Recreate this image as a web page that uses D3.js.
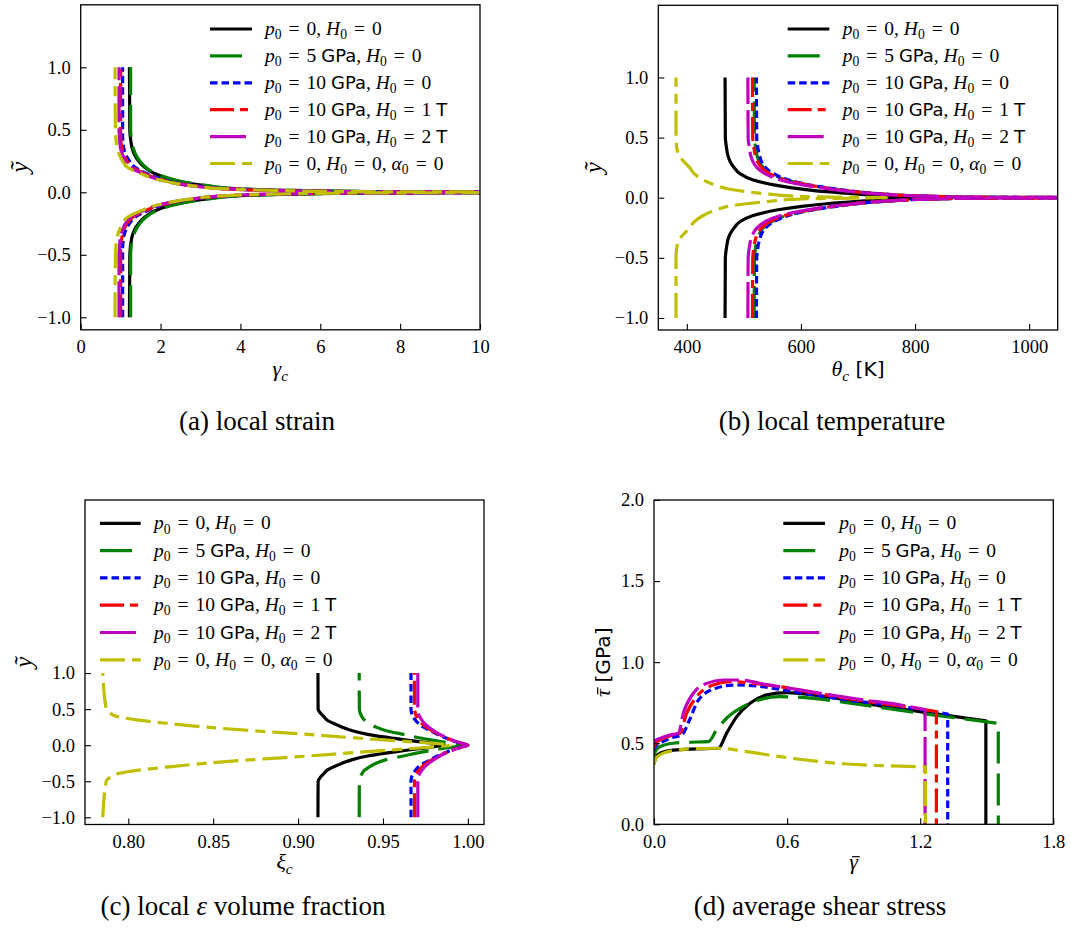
<!DOCTYPE html>
<html><head><meta charset="utf-8">
<script src="https://cdn.jsdelivr.net/npm/d3@7"></script>
<style>body{margin:0;background:#fff} svg{display:block}</style>
</head><body>
<svg id="c" width="1071" height="938"></svg>
<script>
// ---------- data ----------
const seriesColors = ["#000000", "#008000", "#0000ff", "#ff0000", "#bf00bf", "#bfbf00"];
const seriesDash = [null, "32,10", "7.5,4", "24,6,8,6", "36,6", "25,7,10,7"];
const legendLabels = [
  [["p","i"],["0","s"],["=","e"],["0,","r"],[" ","r"],["H","i"],["0","s"],["=","e"],["0","r"]],
  [["p","i"],["0","s"],["=","e"],["5 ","r"],["GPa","f"],[", ","r"],["H","i"],["0","s"],["=","e"],["0","r"]],
  [["p","i"],["0","s"],["=","e"],["10 ","r"],["GPa","f"],[", ","r"],["H","i"],["0","s"],["=","e"],["0","r"]],
  [["p","i"],["0","s"],["=","e"],["10 ","r"],["GPa","f"],[", ","r"],["H","i"],["0","s"],["=","e"],["1 ","r"],["T","f"]],
  [["p","i"],["0","s"],["=","e"],["10 ","r"],["GPa","f"],[", ","r"],["H","i"],["0","s"],["=","e"],["2 ","r"],["T","f"]],
  [["p","i"],["0","s"],["=","e"],["0,","r"],[" ","r"],["H","i"],["0","s"],["=","e"],["0,","r"],[" ","r"],["α","i"],["0","s"],["=","e"],["0","r"]]
];

const profileY = [-1,-0.5,-0.45,-0.4,-0.35,-0.3,-0.25,-0.2,-0.15,-0.1,-0.07,-0.05,-0.03,-0.015,-0.005,0,0.005,0.015,0.03,0.05,0.07,0.1,0.15,0.2,0.25,0.3,0.35,0.4,0.45,0.5,1];

// (a) local strain gamma_c
const strainBlack   = [1.22,1.23,1.24,1.26,1.29,1.35,1.45,1.6,1.85,2.3,2.75,3.2,3.8,5.2,7.5,14,7.5,5.2,3.8,3.2,2.75,2.3,1.85,1.6,1.45,1.35,1.29,1.26,1.24,1.23,1.22];
const strainGreen   = [1.25,1.25,1.26,1.28,1.32,1.38,1.48,1.63,1.88,2.35,2.8,3.25,3.9,5.3,7.7,14,7.7,5.3,3.9,3.25,2.8,2.35,1.88,1.63,1.48,1.38,1.32,1.28,1.26,1.25,1.25];
const strainBlue    = [1.05,1.05,1.05,1.06,1.08,1.13,1.22,1.36,1.65,2.07,2.5,2.95,3.6,4.9,7.2,14,7.2,4.9,3.6,2.95,2.5,2.07,1.65,1.36,1.22,1.13,1.08,1.06,1.05,1.05,1.05];
const strainRed     = [1.0,1.0,1.0,1.01,1.04,1.08,1.16,1.3,1.6,2.02,2.45,2.9,3.55,4.8,7.1,14,7.1,4.8,3.55,2.9,2.45,2.02,1.6,1.3,1.16,1.08,1.04,1.01,1.0,1.0,1.0];
const strainMagenta = [0.96,0.96,0.97,0.98,1.0,1.05,1.12,1.25,1.55,1.97,2.4,2.85,3.5,4.7,7.0,14,7.0,4.7,3.5,2.85,2.4,1.97,1.55,1.25,1.12,1.05,1.0,0.98,0.97,0.96,0.96];
const strainYellow  = [0.86,0.87,0.88,0.89,0.92,0.97,1.05,1.17,1.5,1.95,2.4,2.85,3.5,4.8,7.0,14,7.0,4.8,3.5,2.85,2.4,1.95,1.5,1.17,1.05,0.97,0.92,0.89,0.88,0.87,0.86];

// (b) local temperature theta_c [K]
const tempBlack   = [467,467.5,468.5,470,472,476,483,493,515,560,605,645,700,750,810,860,810,750,700,645,605,560,515,493,483,476,472,470,468.5,467.5,467];
const tempGreen   = [518,518.5,519.5,521,523,527,534,548,573,620,662,696,745,804,893,1150,893,804,745,696,662,620,573,548,534,527,523,521,519.5,518.5,518];
const tempBlue    = [522,522.5,523.5,525,527.5,531,538,552,577,623,665,698,747,805,894,1150,894,805,747,698,665,623,577,552,538,531,527.5,525,523.5,522.5,522];
const tempRed     = [515,515.5,516.5,518,520,524,531,545,570,618,660,694,744,803,892,1150,892,803,744,694,660,618,570,545,531,524,520,518,516.5,515.5,515];
const tempMagenta = [507,507.5,508.5,510,512,516,523,537,563,612,655,690,740,800,890,1150,890,800,740,690,655,612,563,537,523,516,512,510,508.5,507.5,507];
const tempYellow  = [381,381,381.5,383,386,395,405,413,428,452,475,505,545,580,650,750,650,580,545,505,475,452,428,413,405,395,386,383,381.5,381,381];

// (c) local epsilon volume fraction xi_c
const fracBlack   = [0.9117,0.9118,0.913,0.915,0.917,0.921,0.926,0.932,0.941,0.955,0.964,0.971,0.978,0.982,0.985,0.986,0.985,0.982,0.978,0.971,0.964,0.955,0.941,0.932,0.926,0.921,0.917,0.915,0.913,0.9118,0.9117];
const fracGreen   = [0.936,0.9361,0.9365,0.9375,0.939,0.942,0.946,0.952,0.962,0.972,0.979,0.984,0.99,0.994,0.996,0.997,0.996,0.994,0.99,0.984,0.979,0.972,0.962,0.952,0.946,0.942,0.939,0.9375,0.9365,0.9361,0.936];
const fracBlue    = [0.9665,0.9665,0.9668,0.9675,0.969,0.971,0.974,0.978,0.982,0.987,0.99,0.9925,0.9955,0.998,0.9995,1.0,0.9995,0.998,0.9955,0.9925,0.99,0.987,0.982,0.978,0.974,0.971,0.969,0.9675,0.9668,0.9665,0.9665];
const fracRed     = [0.9685,0.9686,0.969,0.9697,0.971,0.973,0.9755,0.979,0.983,0.9875,0.9905,0.993,0.996,0.998,0.9995,1.0,0.9995,0.998,0.996,0.993,0.9905,0.9875,0.983,0.979,0.9755,0.973,0.971,0.9697,0.969,0.9686,0.9685];
const fracMagenta = [0.9705,0.9705,0.9707,0.9715,0.9728,0.9745,0.977,0.98,0.9835,0.988,0.991,0.993,0.996,0.998,0.9995,1.0,0.9995,0.998,0.996,0.993,0.991,0.988,0.9835,0.98,0.977,0.9745,0.9728,0.9715,0.9707,0.9705,0.9705];
const fracYellow  = [0.785,0.787,0.789,0.793,0.805,0.824,0.846,0.874,0.906,0.934,0.952,0.965,0.977,0.985,0.989,0.99,0.989,0.985,0.977,0.965,0.952,0.934,0.906,0.874,0.846,0.824,0.805,0.793,0.789,0.787,0.785];

// (d) average shear stress vs average strain (curve, then sudden drop to 0)
const gamBlack   = [0,0.008,0.027,0.087,0.192,0.29,0.327,0.373,0.433,0.508,0.598,0.718,0.868,1.019,1.169,1.319,1.496];
const tauBlack   = [0.376,0.41,0.438,0.458,0.465,0.469,0.561,0.664,0.746,0.798,0.812,0.798,0.767,0.730,0.701,0.672,0.638];
const gamGreen   = [0,0.008,0.027,0.087,0.162,0.245,0.282,0.327,0.388,0.463,0.568,0.718,0.868,1.019,1.169,1.319,1.552];
const tauGreen   = [0.417,0.455,0.479,0.5,0.506,0.51,0.582,0.654,0.715,0.763,0.787,0.777,0.75,0.721,0.691,0.664,0.623];
const gamBlue    = [0,0.008,0.027,0.072,0.128,0.16,0.2,0.276,0.366,0.463,0.568,0.718,0.868,1.019,1.169,1.324];
const tauBlue    = [0.458,0.485,0.5,0.53,0.556,0.643,0.766,0.838,0.859,0.853,0.832,0.798,0.767,0.742,0.715,0.68];
const gamRed     = [0,0.008,0.027,0.087,0.117,0.147,0.192,0.267,0.343,0.448,0.568,0.718,0.868,1.019,1.169,1.273];
const tauRed     = [0.469,0.5,0.52,0.551,0.561,0.684,0.787,0.859,0.88,0.869,0.849,0.812,0.777,0.746,0.719,0.695];
const gamMagenta = [0,0.008,0.027,0.072,0.11,0.132,0.177,0.237,0.312,0.388,0.493,0.643,0.793,0.943,1.094,1.222];
const tauMagenta = [0.5,0.518,0.53,0.551,0.561,0.684,0.808,0.869,0.89,0.89,0.865,0.832,0.798,0.767,0.74,0.707];
const gamYellow  = [0,0.008,0.027,0.087,0.192,0.29,0.418,0.568,0.718,0.868,1.019,1.224];
const tauYellow  = [0.366,0.405,0.428,0.454,0.467,0.469,0.448,0.417,0.391,0.372,0.362,0.355];

const ticksA_x = [0,2,4,6,8,10];
const ticksB_x = [400,600,800,1000];
const ticksC_x = [0.80,0.85,0.90,0.95,1.00];
const ticksD_x = [0.0,0.6,1.2,1.8];
const ticksProfile_y = [-1.0,-0.5,0.0,0.5,1.0];
const ticksD_y = [0.0,0.5,1.0,1.5,2.0];

// ---------- drawing ----------
const svg = d3.select("#c");
const SERIF = "'Liberation Serif', 'Times New Roman', serif";
const SANS = "'DejaVu Sans', sans-serif";
const LW = 3.2;

// token kinds: i italic, r roman, f sans, s subscript, si italic subscript, e '=' with math spacing, ib italic with bar
function richText(sel, tokens, size) {
  const sub = size * 0.22, pad = size * 0.36;
  let prevSub = false, padNext = false;
  const bars = [];
  tokens.forEach(([t, k]) => {
    const ts = sel.append("tspan").text(t);
    const isSub = (k === "s" || k === "si");
    if (k === "i" || k === "ib") ts.attr("font-style", "italic").attr("font-family", SERIF).attr("font-size", size);
    else if (k === "r" || k === "e") ts.attr("font-family", SERIF).attr("font-size", size);
    else if (k === "f") ts.attr("font-family", SANS).attr("font-size", size * 0.92);
    else if (isSub) ts.attr("font-family", SERIF).attr("font-size", size * 0.7).attr("dy", sub)
                      .attr("font-style", k === "si" ? "italic" : null);
    if (prevSub && !isSub) ts.attr("dy", -sub);
    let dx = 0;
    if (padNext) dx += pad;
    if (k === "e") dx += pad;
    if (dx) ts.attr("dx", dx);
    padNext = (k === "e");
    prevSub = isSub;
    if (k === "ib") bars.push(ts);
  });
  return bars;
}

function label(parent, tokens, size, transform, anchor) {
  const g = parent.append("g").attr("transform", transform);
  const t = g.append("text").attr("text-anchor", anchor || "middle").attr("fill", "#000");
  const bars = richText(t, tokens, size);
  bars.forEach(ts => {
    const n = ts.node();
    const p0 = n.getStartPositionOfChar(0), p1 = n.getEndPositionOfChar(0);
    const by = p0.y - size * 0.56;
    g.append("line").attr("x1", p0.x + size * 0.12).attr("x2", p1.x + size * 0.08)
      .attr("y1", by).attr("y2", by).attr("stroke", "#000").attr("stroke-width", 1.2);
  });
  return g;
}

function panel(cfg) {
  const g = svg.append("g");
  const x = d3.scaleLinear().domain(cfg.xd).range(cfg.xr);
  const y = d3.scaleLinear().domain(cfg.yd).range(cfg.yr);
  const id = "clip" + cfg.name;
  svg.append("clipPath").attr("id", id).append("rect")
    .attr("x", cfg.xr[0]).attr("y", cfg.yr[1]).attr("width", cfg.xr[1]-cfg.xr[0]).attr("height", cfg.yr[0]-cfg.yr[1]);
  const plot = g.append("g").attr("clip-path", `url(#${id})`);

  cfg.series.forEach((s, i) => {
    let dstr;
    if (cfg.profile) {
      const pts = profileY.map((yy, j) => [s[j], yy]);
      dstr = d3.line().x(d => x(d[0])).y(d => y(d[1])).curve(d3.curveMonotoneY)(pts);
    } else {
      const pts = s[0].map((v, j) => [v, s[1][j]]);
      dstr = d3.line().x(d => x(d[0])).y(d => y(d[1])).curve(d3.curveMonotoneX)(pts)
        + `L${x(s[0][s[0].length-1])},${y(0)}`;
    }
    plot.append("path").attr("d", dstr).attr("fill", "none")
      .attr("stroke", seriesColors[i]).attr("stroke-width", LW)
      .attr("stroke-dasharray", seriesDash[i]).attr("stroke-linejoin", "round");
  });

  // axes with inward ticks
  const ax = g.append("g").attr("transform", `translate(0,${cfg.yr[0]})`)
    .call(d3.axisBottom(x).tickValues(cfg.tx).tickFormat(cfg.fmtX).tickSizeInner(-6).tickSizeOuter(0).tickPadding(10));
  const ay = g.append("g").attr("transform", `translate(${cfg.xr[0]},0)`)
    .call(d3.axisLeft(y).tickValues(cfg.ty).tickFormat(cfg.fmtY).tickSizeInner(-6).tickSizeOuter(0).tickPadding(10));
  [ax, ay].forEach(a => {
    a.attr("font-family", SERIF).attr("font-size", 18.5);
    a.select(".domain").remove();
    a.selectAll("line").attr("stroke", "#000").attr("stroke-width", 1.1);
    a.selectAll("text").attr("font-family", SERIF).attr("font-size", 18.5).attr("fill", "#000");
  });
  ax.selectAll("text").attr("dy", "0.72em");
  g.append("rect").attr("x", cfg.xr[0]).attr("y", cfg.yr[1]).attr("width", cfg.xr[1]-cfg.xr[0])
    .attr("height", cfg.yr[0]-cfg.yr[1]).attr("fill", "none").attr("stroke", "#000").attr("stroke-width", 1.3);

  // legend
  cfg.series.forEach((s, i) => {
    const ly = cfg.leg.y0 + i * cfg.leg.dy;
    g.append("line").attr("x1", cfg.leg.x1).attr("x2", cfg.leg.x2).attr("y1", ly).attr("y2", ly)
      .attr("stroke", seriesColors[i]).attr("stroke-width", LW).attr("stroke-dasharray", seriesDash[i]);
    label(g, legendLabels[i], 19.5, `translate(${cfg.leg.tx},${ly + 6})`, "start");
  });

  // axis labels
  label(g, cfg.xlab, 22, `translate(${(cfg.xr[0]+cfg.xr[1])/2},${cfg.xlabY})`);
  label(g, cfg.ylab, cfg.ylabSize || 22, `translate(${cfg.ylabX},${(cfg.yr[0]+cfg.yr[1])/2}) rotate(-90)`);

  // caption
  label(g, cfg.cap.t, 27, `translate(${cfg.cap.x},${cfg.cap.y})`);
}

const f1 = d3.format(".1f"), f2 = d3.format(".2f"), f0 = d3.format("d");

panel({name: "a", profile: true, xd: [0, 10], xr: [80.7, 480], yd: [-1.1, 1.5], yr: [329.8, 4.8],
  series: [strainBlack, strainGreen, strainBlue, strainRed, strainMagenta, strainYellow],
  tx: ticksA_x, ty: ticksProfile_y, fmtX: f0, fmtY: f1,
  leg: {x1: 210, x2: 252, tx: 265, y0: 29, dy: 26.9},
  xlab: [["γ","i"],["c","si"]], xlabY: 376, ylab: [["ỹ","i"]], ylabX: 28, ylabSize: 25,
  cap: {x: 257, y: 430, t: [["(a) local strain","r"]]}});

panel({name: "b", profile: true, xd: [350, 1050], xr: [658.3, 1057.7], yd: [-1.1, 1.6], yr: [330, 5.3],
  series: [tempBlack, tempGreen, tempBlue, tempRed, tempMagenta, tempYellow],
  tx: ticksB_x, ty: ticksProfile_y, fmtX: f0, fmtY: f1,
  leg: {x1: 787.7, x2: 829.3, tx: 842.7, y0: 29, dy: 26.9},
  xlab: [["θ","i"],["c","si"],[" [K]","f"]], xlabY: 376, ylab: [["ỹ","i"]], ylabX: 602, ylabSize: 25,
  cap: {x: 832, y: 430, t: [["(b) local temperature","r"]]}});

panel({name: "c", profile: true, xd: [0.7745, 1.0095], xr: [85, 484], yd: [-1.1, 3.4], yr: [824.5, 500],
  series: [fracBlack, fracGreen, fracBlue, fracRed, fracMagenta, fracYellow],
  tx: ticksC_x, ty: ticksProfile_y, fmtX: f2, fmtY: f1,
  leg: {x1: 100, x2: 140.7, tx: 154, y0: 523.3, dy: 27.3},
  xlab: [["ξ","i"],["c","si"]], xlabY: 869, ylab: [["ỹ","i"]], ylabX: 32, ylabSize: 25,
  cap: {x: 243, y: 915, t: [["(c) local ","r"],["ε","i"],[" volume fraction","r"]]}});

panel({name: "d", profile: false, xd: [0, 1.8], xr: [654, 1053.3], yd: [0, 2], yr: [824.3, 500],
  series: [[gamBlack, tauBlack], [gamGreen, tauGreen], [gamBlue, tauBlue], [gamRed, tauRed], [gamMagenta, tauMagenta], [gamYellow, tauYellow]],
  tx: ticksD_x, ty: ticksD_y, fmtX: f1, fmtY: f1,
  leg: {x1: 783.3, x2: 825, tx: 839.3, y0: 523.3, dy: 27.3},
  xlab: [["γ","ib"]], xlabY: 869, ylab: [["τ","ib"],[" [GPa]","f"]], ylabX: 610,
  cap: {x: 820, y: 915, t: [["(d) average shear stress","r"]]}});
</script>
</body></html>
